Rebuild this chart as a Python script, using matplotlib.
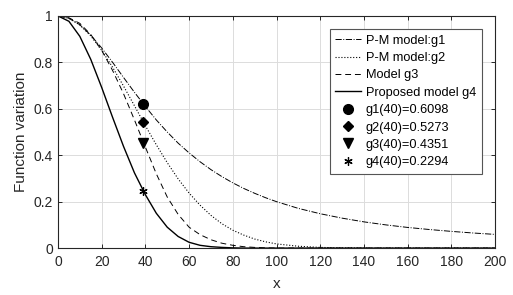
import numpy as np
import matplotlib
matplotlib.use('Agg')
import matplotlib.pyplot as plt

plt.rcParams['font.family'] = ['Liberation Sans', 'DejaVu Sans']

# curves
x = [0, 5, 10, 15, 20, 25, 30, 35, 40, 45, 50, 55, 60, 65, 70, 75, 80, 85, 90, 95,
     100, 110, 120, 130, 140, 150, 160, 170, 180, 190, 200]
g1 = [1.000, 0.990, 0.962, 0.917, 0.862, 0.800, 0.735, 0.671, 0.610, 0.552, 0.500,
      0.452, 0.410, 0.372, 0.338, 0.308, 0.281, 0.257, 0.236, 0.217, 0.200, 0.171,
      0.148, 0.129, 0.113, 0.100, 0.089, 0.080, 0.072, 0.065, 0.059]
g2 = [1.000, 0.990, 0.961, 0.914, 0.852, 0.779, 0.698, 0.613, 0.527, 0.445, 0.368,
      0.298, 0.237, 0.185, 0.141, 0.105, 0.077, 0.056, 0.039, 0.027, 0.018, 0.008,
      0.003, 0.001, 0.000, 0.000, 0.000, 0.000, 0.000, 0.000, 0.000]
g3 = [1.000, 0.992, 0.968, 0.920, 0.852, 0.765, 0.665, 0.552, 0.435, 0.320, 0.220,
      0.145, 0.090, 0.058, 0.036, 0.021, 0.012, 0.006, 0.003, 0.001, 0.000, 0.000,
      0.000, 0.000, 0.000, 0.000, 0.000, 0.000, 0.000, 0.000, 0.000]
g4 = [1.000, 0.977, 0.912, 0.813, 0.692, 0.563, 0.438, 0.324, 0.230, 0.150, 0.090,
      0.050, 0.025, 0.012, 0.006, 0.003, 0.001, 0.000, 0.000, 0.000, 0.000, 0.000,
      0.000, 0.000, 0.000, 0.000, 0.000, 0.000, 0.000, 0.000, 0.000]

# highlighted points
px = 39
py = [0.622, 0.544, 0.452, 0.245]
plabels = ['g1(40)=0.6098', 'g2(40)=0.5273', 'g3(40)=0.4351', 'g4(40)=0.2294']
line_labels = ['P-M model:g1', 'P-M model:g2', 'Model g3', 'Proposed model g4']

fig = plt.figure(figsize=(5.13, 2.95), dpi=100)
ax = fig.add_axes([0.113, 0.159, 0.852, 0.787])

ax.plot(x, g1, '-.', color='k', lw=0.7, label=line_labels[0])
ax.plot(x, g2, ':', color='k', lw=0.8, label=line_labels[1])
ax.plot(x, g3, '--', color='k', lw=0.7, dashes=(6, 4), label=line_labels[2])
ax.plot(x, g4, '-', color='k', lw=1.0, label=line_labels[3])

ax.plot(px, py[0], 'o', color='k', ms=7, ls='none', label=plabels[0])
ax.plot(px, py[1], 'D', color='k', ms=5.5, ls='none', label=plabels[1])
ax.plot(px, py[2], 'v', color='k', ms=7.5, ls='none', label=plabels[2])
ax.plot(px, py[3], marker=(6, 2, 0), color='k', ms=6, mew=0.9, ls='none', label=plabels[3])

ax.set_xlim(0, 200)
ax.set_ylim(0, 1)
ax.set_xticks(np.arange(0, 201, 20))
ax.set_yticks([0, 0.2, 0.4, 0.6, 0.8, 1])
ax.set_yticklabels(['0', '0.2', '0.4', '0.6', '0.8', '1'])
ax.grid(True, color='#dcdcdc', lw=0.7)
ax.set_axisbelow(True)
ax.tick_params(direction='in', top=True, right=True, length=3, labelsize=10,
               colors='#262626', width=0.7)
ax.tick_params(axis='x', pad=5)
for s in ax.spines.values():
    s.set_linewidth(0.8)
    s.set_color('#262626')

ax.set_xlabel('x', fontsize=11, color='#262626', labelpad=6)
ax.set_ylabel('Function variation', fontsize=11, color='#262626', labelpad=4)

leg = ax.legend(loc='upper right', bbox_to_anchor=(0.970, 0.944), borderaxespad=0,
                fontsize=9.2, frameon=True, fancybox=False, edgecolor='#555555',
                framealpha=1, handlelength=2.0, labelspacing=0.42, borderpad=0.45,
                handletextpad=0.4)
leg.get_frame().set_linewidth(0.8)

fig.savefig('out.png', dpi=100)
